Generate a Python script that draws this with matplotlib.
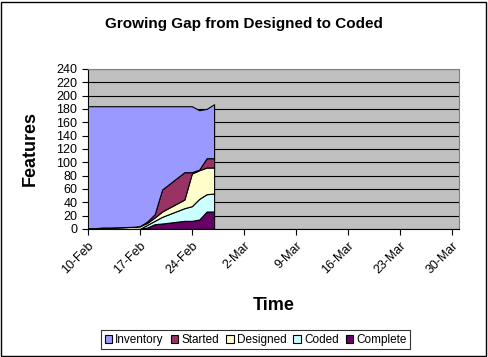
import datetime as dt
import matplotlib
matplotlib.use("Agg")
import matplotlib.pyplot as plt
import matplotlib.dates as mdates
from matplotlib.patches import Rectangle

plt.rcParams["font.family"] = ["Liberation Sans", "DejaVu Sans"]

# data (workdays, Feb 2004)
dates = ["2004-02-10", "2004-02-11", "2004-02-12", "2004-02-13", "2004-02-16",
         "2004-02-17", "2004-02-18", "2004-02-19", "2004-02-20", "2004-02-23",
         "2004-02-24", "2004-02-25", "2004-02-26", "2004-02-27"]
complete = [0, 0, 0, 0, 0, 0, 2, 7, 8, 12, 12, 14, 26, 26]
coded = [0, 0, 0, 0, 0, 0, 4, 5, 10, 19, 22, 31, 26, 27]
designed = [1, 1, 2, 2, 3, 4, 3, 5, 8, 13, 49, 43, 40, 39]
started = [0, 0, 0, 0, 0, 0, 2, 5, 33, 41, 2, 1, 14, 14]
inventory = [183, 183, 182, 182, 181, 180, 173, 162, 125, 99, 99, 89, 74, 81]

series_names = ["Complete", "Coded", "Designed", "Started", "Inventory"]
colors = ["#660066", "#CCFFFF", "#FFFFCC", "#993366", "#9999FF"]
tick_dates = ["2004-02-10", "2004-02-17", "2004-02-24", "2004-03-02",
              "2004-03-09", "2004-03-16", "2004-03-23", "2004-03-30"]

x = [dt.datetime.strptime(d, "%Y-%m-%d") for d in dates]
xt = [dt.datetime.strptime(d, "%Y-%m-%d") for d in tick_dates]

fig = plt.figure(figsize=(4.88, 3.57), dpi=100)
ax = fig.add_axes([0.180, 0.359, 0.761, 0.448])
ax.set_facecolor("#C0C0C0")

ax.stackplot(x, complete, coded, designed, started, inventory,
             colors=colors, labels=series_names,
             edgecolor="black", linewidth=0.8, zorder=3)

ax.set_xlim(dt.datetime(2004, 2, 10), dt.datetime(2004, 3, 31))
ax.set_ylim(0, 240)
ax.set_yticks(range(0, 241, 20))
ax.set_xticks(xt)
ax.xaxis.set_major_formatter(mdates.DateFormatter("%-d-%b"))
ax.yaxis.grid(True, color="black", linewidth=0.8)
ax.set_axisbelow(True)

for lab in ax.get_xticklabels():
    lab.set_rotation(45)
    lab.set_ha("right")
    lab.set_rotation_mode("anchor")
ax.tick_params(axis="both", labelsize=9, direction="out", length=4,
               color="black", width=0.8)

for s in ["top", "right"]:
    ax.spines[s].set_color("#808080")
ax.spines["left"].set_color("black")
ax.spines["bottom"].set_color("black")

fig.text(0.5, 0.932, "Growing Gap from Designed to Coded", ha="center",
         va="center", fontsize=11, fontweight="bold")
fig.text(0.062, 0.583, "Features", rotation=90, ha="center", va="center",
         fontsize=13, fontweight="bold")
fig.text(0.56, 0.143, "Time", ha="center", va="center",
         fontsize=13, fontweight="bold")

handles, labels = ax.get_legend_handles_labels()
order = [4, 3, 2, 1, 0]
leg = fig.legend([handles[i] for i in order], [labels[i] for i in order],
                 loc="center", bbox_to_anchor=(0.524, 0.048), ncol=5,
                 fontsize=8.5, frameon=True, fancybox=False,
                 handlelength=0.65, handleheight=0.65, handletextpad=0.25,
                 columnspacing=0.6, borderpad=0.3)
leg.get_frame().set_edgecolor("black")
leg.get_frame().set_linewidth(0.8)

fig.patches.append(Rectangle((0.002, 0.003), 0.994, 0.992, transform=fig.transFigure,
                             fill=False, edgecolor="black", linewidth=1))

fig.savefig("out.png", dpi=100)
